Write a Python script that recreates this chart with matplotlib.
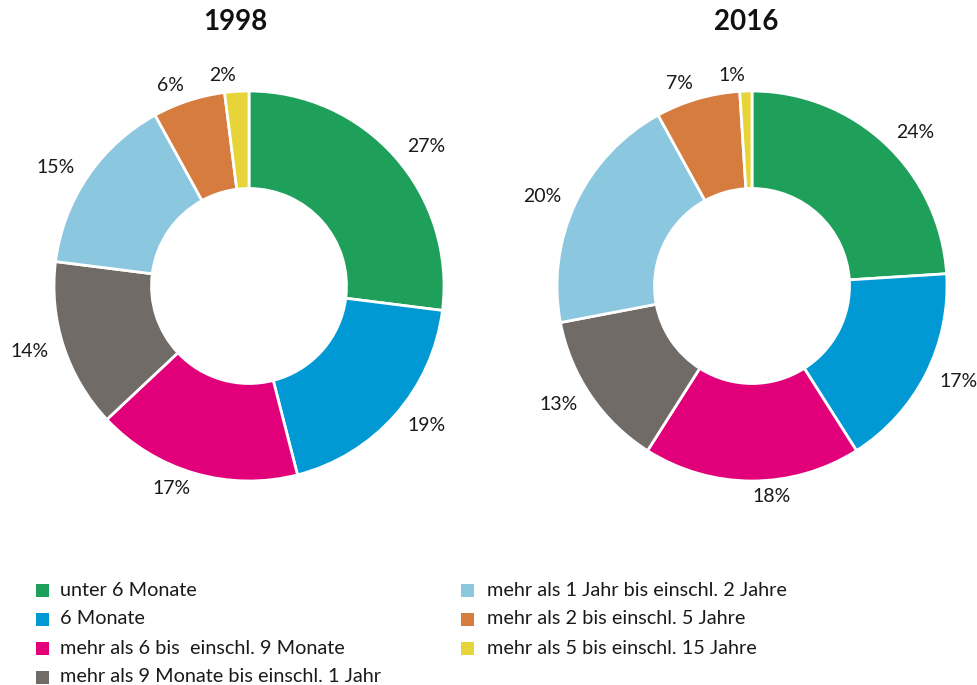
import matplotlib.pyplot as plt
from matplotlib.patches import Rectangle

plt.rcParams['font.family'] = ['Lato', 'DejaVu Sans']

categories = [
    'unter 6 Monate',
    '6 Monate',
    'mehr als 6 bis  einschl. 9 Monate',
    'mehr als 9 Monate bis einschl. 1 Jahr',
    'mehr als 1 Jahr bis einschl. 2 Jahre',
    'mehr als 2 bis einschl. 5 Jahre',
    'mehr als 5 bis einschl. 15 Jahre',
]
colors = ['#1e9f5a', '#0099d3', '#e2007a', '#706b67', '#8bc7df', '#d67c3f', '#e6d439']

years = ['1998', '2016']
values_1998 = [27, 19, 17, 14, 15, 6, 2]
values_2016 = [24, 17, 18, 13, 20, 7, 1]
series = [values_1998, values_2016]

W, H = 977, 685
fig = plt.figure(figsize=(W / 100, H / 100), dpi=100)

R = 195  # outer radius in px
centers = [(249, 286), (752, 286)]
title_x = [235, 746]

for (cx, cy), tx, year, vals in zip(centers, title_x, years, series):
    ax = fig.add_axes([(cx - R) / W, (H - cy - R) / H, 2 * R / W, 2 * R / H])
    wedges, texts = ax.pie(vals, colors=colors, startangle=90, counterclock=False,
                           radius=1.0, labels=[f'{v}%' for v in vals], labeldistance=1.08,
                           wedgeprops=dict(width=0.5, edgecolor='white', linewidth=2),
                           textprops=dict(fontsize=14, color='#1a1a1a'))
    for t in texts:
        # label straight below the centre goes to the right
        if abs(t.get_position()[0]) < 1e-6:
            t.set_ha('left')
    ax.set_xlim(-1, 1)
    ax.set_ylim(-1, 1)
    ax.set_aspect('equal')
    ax.axis('off')
    fig.text(tx / W, (H - 22) / H, year, ha='center', va='center',
             fontsize=20, fontweight='bold', color='#111111')

# legend, two columns
rows_y = [590, 619, 648, 677]
col_x = [(36, 60), (461, 487)]
sq = 13
for i, (lab, col) in enumerate(zip(categories, colors)):
    c = 0 if i < 4 else 1
    r = i if i < 4 else i - 4
    sx, tx = col_x[c]
    y = rows_y[r]
    fig.add_artist(Rectangle((sx / W, (H - y - sq / 2) / H), sq / W, sq / H,
                             transform=fig.transFigure, facecolor=col, edgecolor='none'))
    fig.text(tx / W, (H - y) / H, lab, ha='left', va='center', fontsize=14.3, color='#1a1a1a')

fig.savefig('out.png', dpi=100, facecolor='white')
